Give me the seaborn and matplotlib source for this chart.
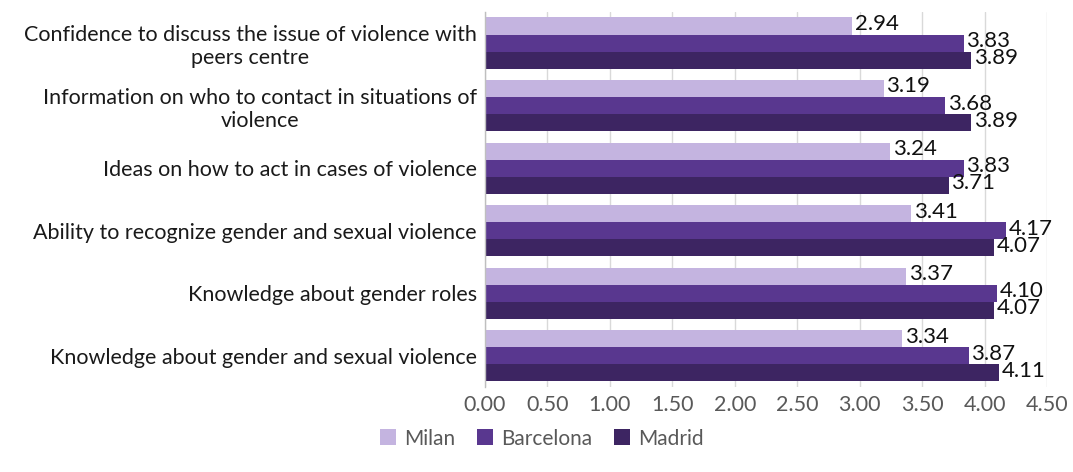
import matplotlib
matplotlib.use("Agg")
import matplotlib.pyplot as plt
import seaborn as sns
import pandas as pd

categories = [
    "Confidence to discuss the issue of violence with\npeers centre",
    "Information on who to contact in situations of\nviolence",
    "Ideas on how to act in cases of violence",
    "Ability to recognize gender and sexual violence",
    "Knowledge about gender roles",
    "Knowledge about gender and sexual violence",
]
series = ["Milan", "Barcelona", "Madrid"]
milan = [2.94, 3.19, 3.24, 3.41, 3.37, 3.34]
barcelona = [3.83, 3.68, 3.83, 4.17, 4.10, 3.87]
madrid = [3.89, 3.89, 3.71, 4.07, 4.07, 4.11]
x_ticks = [0.0, 0.5, 1.0, 1.5, 2.0, 2.5, 3.0, 3.5, 4.0, 4.5]

colors = ["#C4B4E0", "#59378F", "#3D2562"]

df = pd.DataFrame({
    "category": categories * 3,
    "city": sum([[s] * len(categories) for s in series], []),
    "value": milan + barcelona + madrid,
})

sns.set_theme(style="white")
plt.rcParams["font.family"] = ["Lato", "DejaVu Sans"]

fig = plt.figure(figsize=(10.73, 4.72), dpi=100)
ax = fig.add_axes([0.452, 0.18, 0.524, 0.795])

sns.barplot(data=df, y="category", x="value", hue="city", hue_order=series,
            order=categories, palette=colors, orient="h", width=0.82,
            saturation=1, linewidth=0, ax=ax, legend=True)

ax.set_xlim(0, 4.5)
ax.set_xticks(x_ticks)
ax.set_xticklabels([f"{t:.2f}" for t in x_ticks], fontsize=15.5, color="#595959")
ax.tick_params(axis="y", labelsize=15.5, labelcolor="#1a1a1a", length=0, pad=6)
ax.tick_params(axis="x", length=0, pad=6)
for lab in ax.get_yticklabels():
    lab.set_multialignment("center")
ax.set_xlabel("")
ax.set_ylabel("")
ax.grid(axis="x", color="#D9D9D9", linewidth=1)
ax.set_axisbelow(True)
for s in ["top", "right", "bottom"]:
    ax.spines[s].set_visible(False)
ax.spines["left"].set_color("#BFBFBF")
ax.spines["left"].set_linewidth(1)

for container in ax.containers:
    for patch in container:
        w = patch.get_width()
        yc = patch.get_y() + patch.get_height() / 2
        ax.annotate(f"{w:.2f}", xy=(w, yc), xytext=(2, 1.5), textcoords="offset points",
                    ha="left", va="center", fontsize=16, color="#111111")

handles, labels = ax.get_legend_handles_labels()
ax.get_legend().remove()
fig.legend(handles, labels, loc="lower center", bbox_to_anchor=(0.505, 0.01), ncol=3,
           frameon=False, fontsize=15, handlelength=0.8, handleheight=0.8,
           handletextpad=0.4, columnspacing=1.0, labelcolor="#595959")

fig.savefig("out.png", dpi=100)
